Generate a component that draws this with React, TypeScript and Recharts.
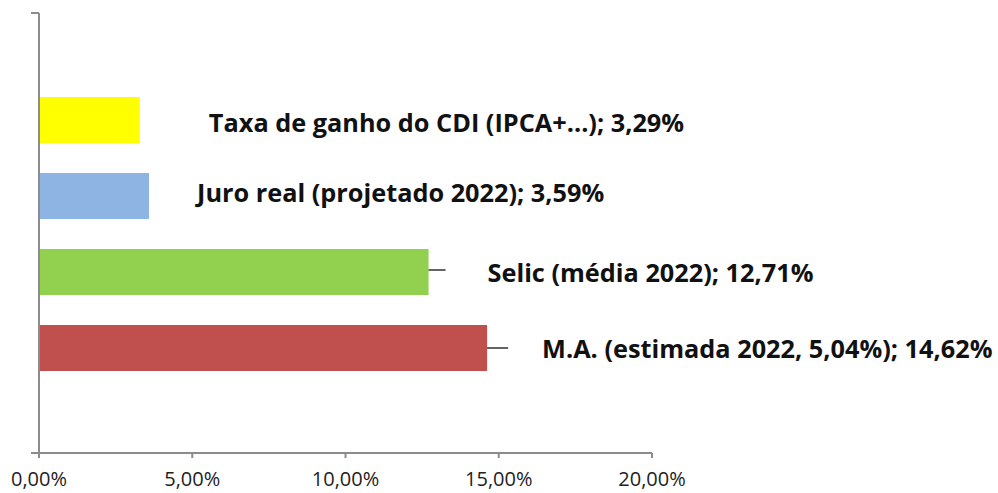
import React from 'react';
import { BarChart, Bar, XAxis, YAxis, LabelList } from 'recharts';

const categories = [''];
const seriesKeys = ['taxa', 'juro', 'selic', 'ma'];
const seriesNames = [
  'Taxa de ganho do CDI (IPCA+...)',
  'Juro real (projetado 2022)',
  'Selic (média 2022)',
  'M.A. (estimada 2022, 5,04%)',
];
const taxaValues = [3.29];
const juroValues = [3.59];
const selicValues = [12.71];
const maValues = [14.62];
const xTicks = [0, 5, 10, 15, 20];

const colors = ['#FFFF00', '#8EB4E3', '#92D050', '#C0504D'];
// dx: gap from bar end to text start; base: baseline offset from bar centre
const labelLayout = [
  { dx: 69, base: 12, leader: 0, ly: 0 },
  { dx: 48, base: 6, leader: 0, ly: 0 },
  { dx: 59, base: 10, leader: 17, ly: -2 },
  { dx: 55, base: 9.5, leader: 21, ly: 0 },
];

const CHART_W = 998;
const CHART_H = 493;
const Y_AXIS_W = 10;
const MARGIN = { top: 13, right: 346, bottom: 0, left: 39 - Y_AXIS_W };
const X_AXIS_H = 40;
const PLOT_H = CHART_H - MARGIN.top - MARGIN.bottom - X_AXIS_H;

const data = categories.map((c, i) => ({
  cat: c,
  taxa: taxaValues[i],
  juro: juroValues[i],
  selic: selicValues[i],
  ma: maValues[i],
}));

const fmt = (v: number) => v.toFixed(2).replace('.', ',') + '%';

const FONT = '"Open Sans", Lato, sans-serif';
const AXIS_COLOR = '#8c8c8c';

const makeLabel = (si: number) => (props: any) => {
  const { x, y, width, height, value } = props;
  const end = Number(x) + Number(width);
  const cy = Number(y) + Number(height) / 2;
  const L = labelLayout[si];
  return (
    <g>
      {L.leader > 0 && (
        <line x1={end} y1={cy + L.ly} x2={end + L.leader} y2={cy + L.ly} stroke="#111" strokeWidth={1.3} />
      )}
      <text
        x={end + L.dx}
        y={cy + L.base}
        fontFamily={FONT}
        fontWeight={700}
        fontSize={25.3}
        fill="#111"
      >
        {`${seriesNames[si]}; ${fmt(Number(value))}`}
      </text>
    </g>
  );
};

const EdgeTick = (props: any) => {
  const { x, y, payload } = props;
  const half = payload && payload.offset > 0 ? payload.offset : PLOT_H / 2;
  const ax = Number(x);
  return (
    <g>
      <line x1={ax - 8} y1={y - half} x2={ax} y2={y - half} stroke={AXIS_COLOR} strokeWidth={2} />
      <line x1={ax - 8} y1={y + half} x2={ax} y2={y + half} stroke={AXIS_COLOR} strokeWidth={2} />
    </g>
  );
};

export default function App() {
  return (
    <div style={{ position: 'absolute', left: 0, top: 0, width: CHART_W, height: CHART_H, background: '#fff' }}>
      <BarChart
        width={CHART_W}
        height={CHART_H}
        data={data}
        layout="vertical"
        margin={MARGIN}
        barCategoryGap={84}
        barGap={30}
      >
        <XAxis
          type="number"
          domain={[0, 20]}
          ticks={xTicks}
          interval={0}
          tickFormatter={(v: number) => fmt(v)}
          height={X_AXIS_H}
          tickSize={5}
          tickMargin={14}
          axisLine={{ stroke: AXIS_COLOR, strokeWidth: 2 }}
          tickLine={{ stroke: AXIS_COLOR, strokeWidth: 2 }}
          tick={{ fontFamily: FONT, fontSize: 20, fill: '#222' }}
        />
        <YAxis
          type="category"
          dataKey="cat"
          width={Y_AXIS_W}
          tickSize={0}
          tickMargin={0}
          tickLine={false}
          tick={<EdgeTick />}
          interval={0}
          axisLine={{ stroke: AXIS_COLOR, strokeWidth: 2 }}
        />
        {seriesKeys.map((k, si) => (
          <Bar key={k} dataKey={k} fill={colors[si]} isAnimationActive={false}>
            <LabelList dataKey={k} content={makeLabel(si)} />
          </Bar>
        ))}
      </BarChart>
    </div>
  );
}
